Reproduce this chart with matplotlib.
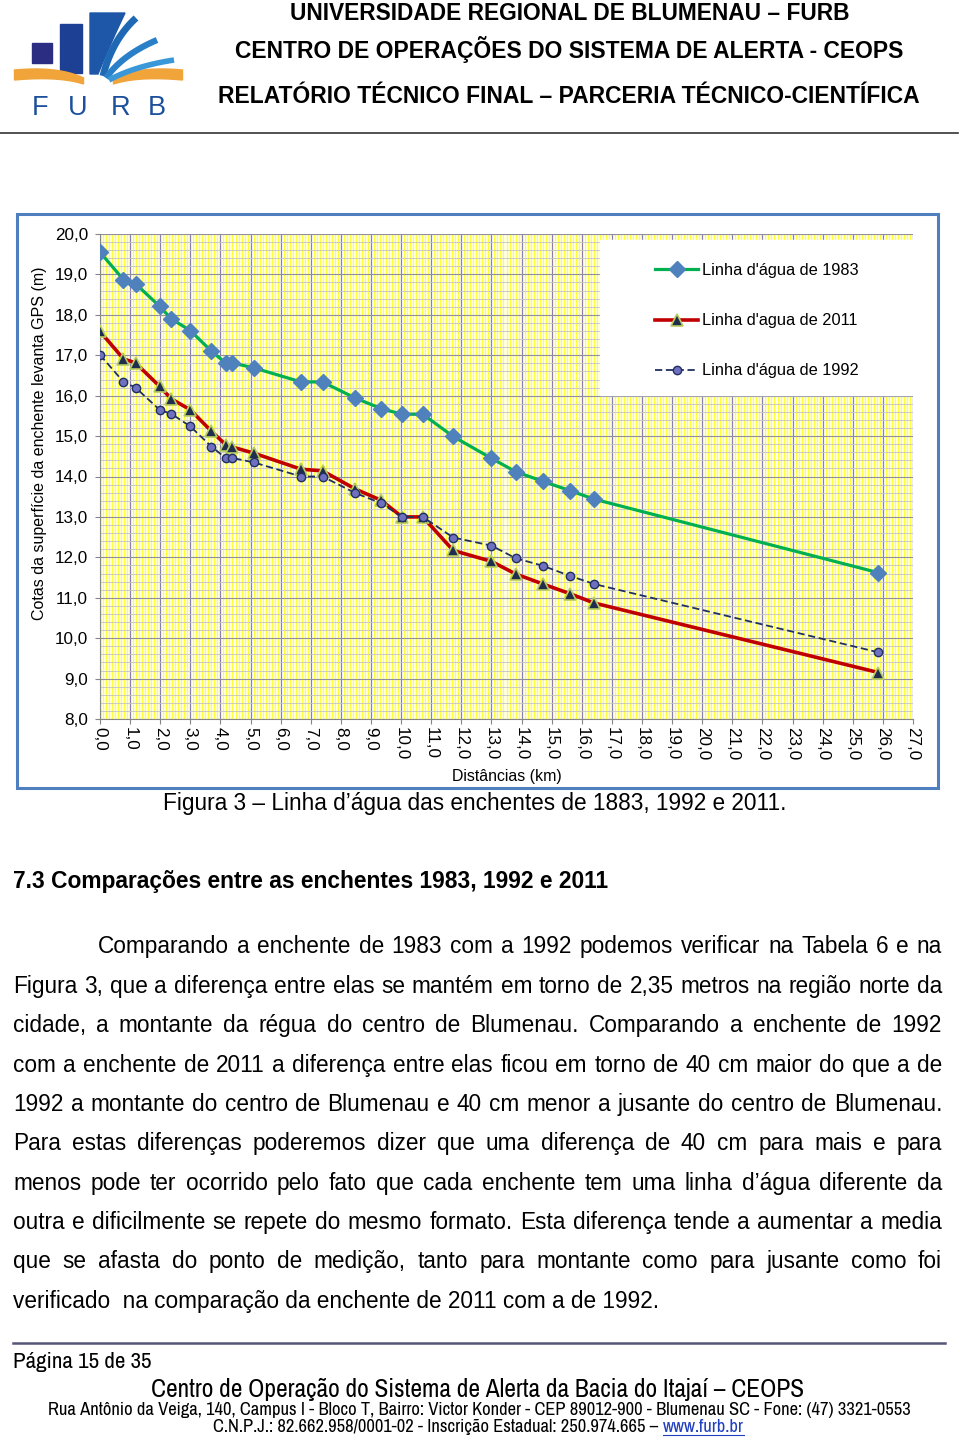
import matplotlib
matplotlib.use('Agg')
import matplotlib.pyplot as plt
from matplotlib import font_manager
from matplotlib.patches import Rectangle, Polygon
from matplotlib.lines import Line2D
from matplotlib.ticker import MultipleLocator
import numpy as np

W, H = 960, 1442

# distancias (km) e cotas (m)
dist = [0.0, 0.78, 1.18, 1.98, 2.37, 3.0, 3.7, 4.17, 4.39, 5.1, 6.68, 7.39,
        8.48, 9.34, 10.03, 10.72, 11.73, 13.0, 13.8, 14.71, 15.61, 16.41, 25.85]
cota_1983 = [19.55, 18.87, 18.77, 18.21, 17.90, 17.61, 17.10, 16.81, 16.81, 16.69, 16.34, 16.34,
             15.94, 15.68, 15.54, 15.54, 14.99, 14.45, 14.12, 13.88, 13.65, 13.44, 11.62]
cota_2011 = [17.59, 16.91, 16.81, 16.23, 15.92, 15.65, 15.12, 14.79, 14.73, 14.58, 14.18, 14.14,
             13.69, 13.41, 13.0, 13.0, 12.17, 11.90, 11.59, 11.34, 11.10, 10.87, 9.15]
cota_1992 = [17.01, 16.34, 16.20, 15.65, 15.55, 15.24, 14.74, 14.46, 14.46, 14.35, 14.0, 14.0,
             13.59, 13.34, 13.0, 13.0, 12.49, 12.29, 11.98, 11.79, 11.54, 11.34, 9.65]
labels = ["Linha d'água de 1983", "Linha d'agua de 2011", "Linha d'água de 1992"]
xticks = list(range(0, 28))
yticks = list(range(8, 21))

header = ["UNIVERSIDADE REGIONAL DE BLUMENAU – FURB",
          "CENTRO DE OPERAÇÕES DO SISTEMA DE ALERTA - CEOPS",
          "RELATÓRIO TÉCNICO FINAL – PARCERIA TÉCNICO-CIENTÍFICA"]
caption = "Figura 3 – Linha d’água das enchentes de 1883, 1992 e 2011."
heading = "7.3 Comparações entre as enchentes 1983, 1992 e 2011"
paragraph = [
    "Comparando a enchente de 1983 com a 1992 podemos verificar na Tabela 6 e na",
    "Figura 3, que a diferença entre elas se mantém em torno de 2,35 metros na região norte da",
    "cidade, a montante da régua do centro de Blumenau. Comparando a enchente de 1992",
    "com a enchente de 2011 a diferença entre elas ficou em torno de 40 cm maior do que a de",
    "1992 a montante do centro de Blumenau e 40 cm menor a jusante do centro de Blumenau.",
    "Para estas diferenças poderemos dizer que uma diferença de 40 cm para mais e para",
    "menos pode ter ocorrido pelo fato que cada enchente tem uma linha d’água diferente da",
    "outra e dificilmente se repete do mesmo formato. Esta diferença tende a aumentar a media",
    "que se afasta do ponto de medição, tanto para montante como para jusante como foi",
    "verificado  na comparação da enchente de 2011 com a de 1992.",
]
footer = ["Página 15 de 35",
          "Centro de Operação do Sistema de Alerta da Bacia do Itajaí – CEOPS",
          "Rua Antônio da Veiga, 140, Campus I - Bloco T, Bairro: Victor Konder - CEP 89012-900 - Blumenau SC - Fone: (47) 3321-0553",
          "C.N.P.J.: 82.662.958/0001-02 - Inscrição Estadual: 250.974.665 –",
          "www.furb.br"]

SANS = 'Liberation Sans'
plt.rcParams['font.family'] = [SANS, 'DejaVu Sans']

# fonte estreita para o rodape (tipo Arial Narrow)
names = {f.name for f in font_manager.fontManager.ttflist}
narrow_kw = {'family': SANS}
for n in ['Liberation Sans Narrow', 'Archivo Narrow', 'Roboto Condensed']:
    if n in names:
        narrow_kw = {'family': n}
        break

fig = plt.figure(figsize=(W / 100, H / 100), dpi=100)
renderer = fig.canvas.get_renderer()


def put(x, y, s, size=12, width=None, ha='left', va='baseline', **kw):
    t = fig.text(x / W, 1 - y / H, s, fontsize=size, ha=ha, va=va, **kw)
    if width:
        w = t.get_window_extent(renderer).width
        t.set_fontsize(size * width / w)
    return t


def justify(line, x0, x1, y, size, **kw):
    words = line.split(' ')
    ts = [fig.text(0, 1 - y / H, w, fontsize=size, va='baseline', **kw) for w in words]
    ws = [t.get_window_extent(renderer).width for t in ts]
    gap = (x1 - x0 - sum(ws)) / (len(words) - 1)
    x = x0
    for t, w in zip(ts, ws):
        t.set_x(x / W)
        x += w + gap


def hline(x0, x1, y, **kw):
    fig.add_artist(Line2D([x0 / W, x1 / W], [1 - y / H, 1 - y / H], transform=fig.transFigure, **kw))


# ---------- cabecalho ----------
lg = fig.add_axes([0, 1 - 130 / H, 200 / W, 130 / H])
lg.set_xlim(0, 200)
lg.set_ylim(130, 0)
lg.axis('off')
lg.add_patch(Rectangle((32, 43), 20, 20, color='#2b2d83'))
lg.add_patch(Rectangle((60, 24), 22, 49, color='#1d3f94'))
t = np.linspace(0, 1, 30)
cx = (1 - t) ** 2 * 125 + 2 * (1 - t) * t * 112 + t ** 2 * 98
cy = (1 - t) ** 2 * 13 + 2 * (1 - t) * t * 40 + t ** 2 * 74
lg.add_patch(Polygon(np.column_stack([np.r_[90, cx, 90], np.r_[13, cy, 74]]), color='#1e56a8'))
for (sx, sy), (ex, ey), (kx, ky), c, lw in [((103, 76), (136, 18), (112, 40), '#1f68b4', 5),
                                             ((106, 78), (157, 40), (122, 55), '#2a80c8', 4.5),
                                             ((109, 80), (174, 60), (135, 66), '#3a98d8', 4)]:
    bx = (1 - t) ** 2 * sx + 2 * (1 - t) * t * kx + t ** 2 * ex
    by = (1 - t) ** 2 * sy + 2 * (1 - t) * t * ky + t ** 2 * ey
    lg.plot(bx, by, color=c, lw=lw, solid_capstyle='butt')
for side in (-1, 1):
    ox = 98.5
    top_x = ox + side * ((1 - t) ** 2 * 84 + 2 * (1 - t) * t * 40 + t ** 2 * 15)
    top_y = (1 - t) ** 2 * 70 + 2 * (1 - t) * t * 66 + t ** 2 * 78
    bot_x = ox + side * ((1 - t) ** 2 * 15 + 2 * (1 - t) * t * 40 + t ** 2 * 84)
    bot_y = (1 - t) ** 2 * 84 + 2 * (1 - t) * t * 76 + t ** 2 * 80
    lg.add_patch(Polygon(np.column_stack([np.r_[top_x, bot_x], np.r_[top_y, bot_y]]), color='#f0a43a'))
for letter, lx in zip('FURB', [40, 78, 121, 157]):
    lg.text(lx, 115, letter, fontsize=19.5, color='#1c4f9c', ha='center', va='baseline', family=SANS)

put(290, 20, header[0], size=14, width=562, weight='bold')
put(235, 58, header[1], size=14, width=671, weight='bold')
put(218, 103, header[2], size=14, width=705, weight='bold')
hline(0, 958, 133, color='#333333', lw=1.2)

# ---------- grafico ----------
fig.add_artist(Rectangle((17 / W, 1 - 788 / H), (938 - 17) / W, (788 - 214) / H,
                         transform=fig.transFigure, fill=False, edgecolor='#4f7fbf', lw=2.2))
ax = fig.add_axes([100 / W, 1 - 719 / H, 813 / W, 485 / H])
ax.set_xlim(0, 27)
ax.set_ylim(8, 20)
ax.xaxis.set_minor_locator(MultipleLocator(0.1))
ax.yaxis.set_minor_locator(MultipleLocator(0.2))
ax.grid(which='minor', axis='x', color='#ffff3c', lw=1.0)
ax.grid(which='minor', axis='y', color='#c4c4c4', lw=0.6)
ax.grid(which='major', axis='x', color='#8a7fb2', lw=0.9)
ax.grid(which='major', axis='y', color='#8f8f9f', lw=0.8)
ax.tick_params(which='minor', length=0)
ax.tick_params(which='major', length=3.6, width=0.8, color='#868686', labelsize=12.3)
ax.tick_params(axis='y', pad=5)
ax.tick_params(axis='x', pad=2)
ax.set_xticks(xticks)
ax.set_xticklabels([f'{v},0' for v in xticks], rotation=270)
ax.set_yticks(yticks)
ax.set_yticklabels([f'{v},0' for v in yticks])
for s in ax.spines.values():
    s.set_color('#868686')
ax.spines['top'].set_visible(False)
ax.spines['right'].set_visible(False)

ax.add_patch(Rectangle((500 / 813, 1 - 161 / 485), 313 / 813, 155 / 485, transform=ax.transAxes,
                       color='white', zorder=2))
l1, = ax.plot(dist, cota_1983, color='#00b050', lw=2.3, marker='D', ms=8, mfc='#4f81bd',
              mec='#4f81bd', zorder=4)
l2, = ax.plot(dist, cota_2011, color='#c00000', lw=2.6, marker='^', ms=9, mfc='#1f2d4e',
              mec='#b8cc60', mew=1.2, zorder=5)
l3, = ax.plot(dist, cota_1992, color='#1f3060', lw=1.3, ls=(0, (4, 2)), marker='o', ms=6,
              mfc='#7070c0', mec='#1f3060', mew=1.0, zorder=6)
ax.legend([l1, l2, l3], labels, loc='upper left', frameon=False, fontsize=11.8,
          bbox_to_anchor=((655 - 100) / 813, 1 - (263 - 234) / 485), borderpad=0,
          borderaxespad=0, handlelength=2.65, handletextpad=0.2, labelspacing=2.15)

yl = put(40, 443, 'Cotas da superfície da enchente levanta GPS (m)', size=10, width=355,
         ha='center', va='center')
yl.set_rotation(90)
put(507, 776, 'Distâncias (km)', size=10, width=110, ha='center', va='center')

# ---------- texto ----------
put(163, 810, caption, size=14, width=628)
put(13, 888, heading, size=14, width=596, weight='bold')

last = put(13, 1308, paragraph[-1], size=14, width=651)
body = last.get_fontsize()
baselines = [953, 993, 1032, 1072, 1111, 1150, 1190, 1229, 1268]
for i, (line, yb) in enumerate(zip(paragraph[:-1], baselines)):
    justify(line, 98 if i == 0 else 13, 942, yb, body)

# ---------- rodape ----------
hline(13, 945, 1343, color='#55557a', lw=1.8)
put(13, 1368, footer[0], size=12, width=138, **narrow_kw)
put(151, 1397, footer[1], size=14, width=653, **narrow_kw)
put(48, 1415, footer[2], size=10, width=859, **narrow_kw)
c = put(213, 1432, footer[3], size=10, width=442, **narrow_kw)
x_link = 213 + c.get_window_extent(renderer).width + 5
link = put(x_link, 1432, footer[4], size=c.get_fontsize(), color='#1f3fbf', **narrow_kw)
bb = link.get_window_extent(renderer)
hline(x_link, x_link + bb.width, 1434.5, color='#1f3fbf', lw=0.8)

fig.savefig('out.png', dpi=100)
